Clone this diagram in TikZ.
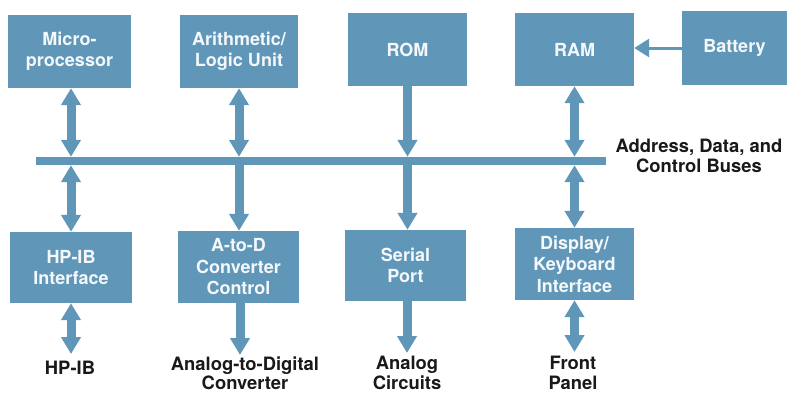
\documentclass[tikz,border=0pt]{standalone}
\usepackage{fontspec}
\setmainfont{TeX Gyre Heros}
\usetikzlibrary{arrows.meta}
\definecolor{hpblue}{RGB}{96,151,185}
\definecolor{ink}{RGB}{25,25,25}
\definecolor{boxtext}{RGB}{245,248,250}
\tikzset{
  box/.style={rectangle, fill=hpblue, draw=none, inner sep=0pt, align=center,
    text=boxtext, font=\bfseries\fontsize{18}{21.5}\selectfont},
  lbl/.style={align=center, text=ink, inner sep=0pt, font=\bfseries\fontsize{18.4}{19.5}\selectfont},
  dbl/.style={hpblue, line width=9pt, {Triangle[width=19pt,length=17pt]}-{Triangle[width=19pt,length=17pt]}},
  sgl/.style={hpblue, line width=9pt, -{Triangle[width=19pt,length=17pt]}},
  thinarr/.style={hpblue, line width=3pt, -{Triangle[width=18pt,length=15pt]}}
}
\begin{document}
\begin{tikzpicture}[x=1pt,y=-1pt]
\useasboundingbox (0,0) rectangle (787,394);
% top boxes
\node[box, minimum width=123pt, minimum height=73pt] (micro) at (69.5,51.5) {Micro-\\processor};
\node[box, minimum width=118pt, minimum height=73pt] (alu) at (239,51.5) {Arithmetic/\\Logic Unit};
\node[box, minimum width=119pt, minimum height=73pt] (rom) at (407.5,49.5) {ROM};
\node[box, minimum width=119pt, minimum height=73pt] (ram) at (574.5,49.5) {RAM};
\node[box, minimum width=105pt, minimum height=74pt] (bat) at (734.5,48) {Battery};
% bus
\node[rectangle, fill=hpblue, inner sep=0pt, minimum width=570pt, minimum height=8pt] (bus) at (321,161) {};
\node[lbl] (buslbl) at (699,156) {Address, Data, and\\Control Buses};
% bottom boxes
\node[box, minimum width=122pt, minimum height=71pt] (hpib) at (71,267.5) {HP-IB\\Interface};
\node[box, minimum width=121pt, minimum height=72pt] (adc) at (238.5,267) {A-to-D\\Converter\\Control};
\node[box, minimum width=121pt, minimum height=71pt] (serial) at (405.5,265.5) {Serial\\Port};
\node[box, minimum width=119pt, minimum height=72pt] (disp) at (574.5,264) {Display/\\Keyboard\\Interface};
% bottom labels
\node[lbl] (hpibl) at (70,368) {HP-IB};
\node[lbl] (adcl) at (245,373) {Analog-to-Digital\\Converter};
\node[lbl] (anal) at (407,373) {Analog\\Circuits};
\node[lbl] (front) at (573,373) {Front\\Panel};
\coordinate (hpibend) at (71,354);
\coordinate (adcend) at (240,355);
\coordinate (serend) at (407,353);
\coordinate (dispend) at (574,352);
% connectors top
\draw[dbl] (micro.south -| hpib.north) -- (hpib.north |- bus.north);
\draw[dbl] (bus.south -| hpib.north) -- (hpib.north);
\draw[dbl] (alu.south) -- (alu.south |- bus.north);
\draw[sgl] (bus.south -| alu.south) -- (alu.south |- adc.north);
\draw[sgl] (rom.south) -- (rom.south |- bus.north);
\draw[sgl] (bus.south -| rom.south) -- (rom.south |- serial.north);
\draw[dbl] (ram.south) -- (ram.south |- bus.north);
\draw[dbl] (bus.south -| disp.north) -- (disp.north);
% connectors bottom
\draw[dbl] (hpib.south) -- (hpibend);
\draw[sgl] (adc.south -| adcend) -- (adcend);
\draw[sgl] (serial.south -| serend) -- (serend);
\draw[dbl] (disp.south) -- (disp.south |- dispend);
% battery
\draw[thinarr] (bat.west) -- (bat.west -| ram.east);
\end{tikzpicture}
\end{document}
